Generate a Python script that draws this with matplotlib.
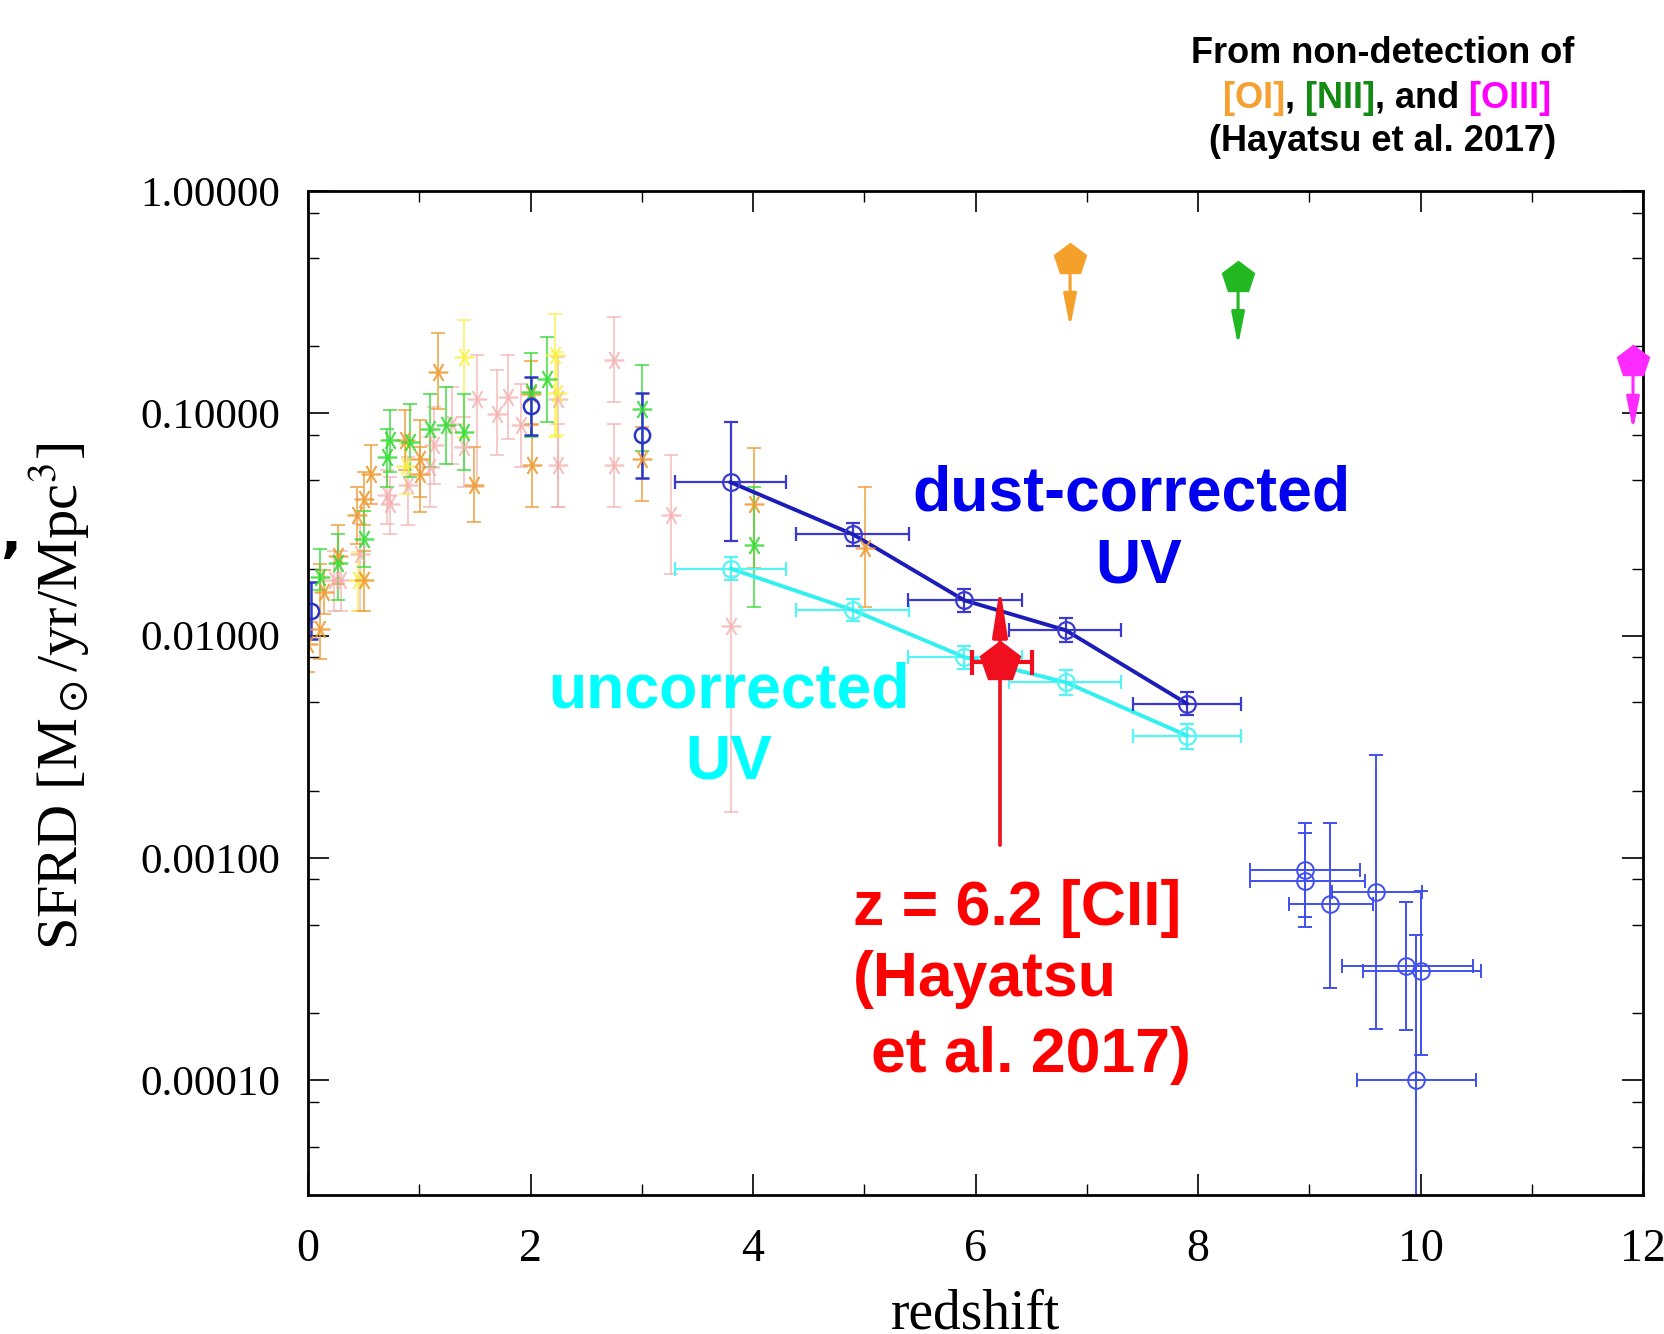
import numpy as np
import matplotlib
matplotlib.use("Agg")
import matplotlib.pyplot as plt
from matplotlib.ticker import LogLocator, FixedLocator, FormatStrFormatter, NullFormatter

plt.rcParams['mathtext.fontset'] = 'stix'

# ---- data (redshift, SFRD, upper, lower) ----
pink_z = [0.23, 0.30, 0.47, 0.71, 0.74, 0.90, 1.10, 1.13, 1.29, 1.40, 1.52, 1.70, 1.80, 1.91, 2.25, 2.25, 2.75, 2.75, 3.26, 3.80]
pink_y = [0.0177, 0.0177, 0.0233, 0.0427, 0.0392, 0.0474, 0.0573, 0.0718, 0.0899, 0.0705, 0.116, 0.0996, 0.118, 0.0883, 0.116, 0.0583, 0.173, 0.0583, 0.0347, 0.011]
pink_hi = [0.0241, 0.0241, 0.0318, 0.0553, 0.0516, 0.0635, 0.0782, 0.1067, 0.1315, 0.0962, 0.1825, 0.156, 0.1825, 0.136, 0.1794, 0.0899, 0.2716, 0.0899, 0.0647, 0.0185]
pink_lo = [0.0129, 0.0129, 0.0129, 0.0318, 0.0287, 0.0313, 0.0378, 0.0482, 0.0593, 0.0466, 0.0466, 0.0647, 0.0769, 0.0573, 0.0378, 0.0378, 0.1125, 0.0378, 0.0190, 0.0016]

yellow_z = [0.45, 0.88, 1.40, 2.22, 2.24]
yellow_y = [0.0177, 0.058, 0.179, 0.182, 0.123]
yellow_hi = [0.0237, 0.073, 0.262, 0.281, 0.189]
yellow_lo = [0.0129, 0.0435, 0.0782, 0.0782, 0.0796]

orange_z = [0.00, 0.11, 0.14, 0.27, 0.44, 0.50, 0.50, 0.57, 0.87, 1.01, 1.01, 1.17, 1.49, 2.00, 2.01, 3.00, 4.01, 5.01]
orange_y = [0.0092, 0.0107, 0.0157, 0.0229, 0.0347, 0.0177, 0.0413, 0.0535, 0.0755, 0.0625, 0.0535, 0.153, 0.0474, 0.122, 0.0583, 0.0625, 0.0389, 0.0247]
orange_hi = [0.0115, 0.0210, 0.0198, 0.0313, 0.0466, 0.0241, 0.0544, 0.0718, 0.103, 0.093, 0.0705, 0.229, 0.0705, 0.172, 0.0899, 0.0869, 0.0695, 0.0468]
orange_lo = [0.00683, 0.00784, 0.0125, 0.0171, 0.0259, 0.0129, 0.0313, 0.0392, 0.0553, 0.042, 0.0359, 0.105, 0.0324, 0.089, 0.0378, 0.0405, 0.0202, 0.0135]

green_z = [0.11, 0.27, 0.50, 0.71, 0.74, 0.92, 1.10, 1.24, 1.40, 2.00, 2.15, 3.00, 4.01]
green_y = [0.0183, 0.0211, 0.0272, 0.0635, 0.0755, 0.0743, 0.0853, 0.0883, 0.0824, 0.125, 0.143, 0.105, 0.0255]
green_hi = [0.0246, 0.0287, 0.0365, 0.0853, 0.103, 0.1106, 0.1227, 0.1315, 0.1227, 0.186, 0.221, 0.1645, 0.0468]
green_lo = [0.0160, 0.0144, 0.0203, 0.0466, 0.0544, 0.0516, 0.0573, 0.0593, 0.0553, 0.0782, 0.0914, 0.068, 0.0135]

blue_low_z = [0.03, 2.00, 3.00]
blue_low_y = [0.0129, 0.1076, 0.0796]
blue_low_hi = [0.0174, 0.145, 0.123]
blue_low_lo = [0.00966, 0.0796, 0.0513]

uv_z = [3.80, 4.90, 5.90, 6.81, 7.90]
uv_zlo = [3.30, 4.39, 5.39, 6.30, 7.42]
uv_zhi = [4.30, 5.40, 6.42, 7.31, 8.39]
dust_y = [0.0489, 0.0285, 0.0144, 0.01057, 0.00494]
dust_hi = [0.091, 0.0320, 0.0162, 0.0120, 0.0056]
dust_lo = [0.0265, 0.0254, 0.0128, 0.0094, 0.0044]
uncor_y = [0.020, 0.0130, 0.0080, 0.00616, 0.00355]
uncor_hi = [0.0226, 0.0146, 0.0090, 0.0070, 0.0040]
uncor_lo = [0.0177, 0.0116, 0.0071, 0.0054, 0.0031]

hiz_z = [8.96, 8.96, 9.19, 9.60, 9.87, 10.00, 9.96]
hiz_zlo = [8.47, 8.47, 8.82, 9.20, 9.29, 9.48, 9.43]
hiz_zhi = [9.46, 9.50, 9.57, 10.01, 10.47, 10.54, 10.50]
hiz_y = [8.8e-4, 7.85e-4, 6.2e-4, 7.0e-4, 3.25e-4, 3.1e-4, 1.0e-4]
hiz_hi = [1.44e-3, 1.29e-3, 1.44e-3, 2.9e-3, 6.3e-4, 7.1e-4, 4.5e-4]
hiz_lo = [5.4e-4, 4.9e-4, 2.6e-4, 1.7e-4, 1.68e-4, 1.3e-4, 1e-6]

cii_z, cii_zlo, cii_zhi = 6.22, 5.97, 6.51
cii_y, cii_arrow_lo, cii_arrow_hi = 0.0076, 0.00114, 0.0165

lim_z = [6.85, 8.36, 11.91]
lim_y = [0.489, 0.405, 0.17]
lim_tip = [0.244, 0.202, 0.084]
lim_col = ['#f5a02a', '#22b822', '#ff2aff']


def eb(ax, z, y, hi, lo, color, marker, ms, alpha=1.0, lw=1.2, xlo=None, xhi=None, **kw):
    z = np.array(z); y = np.array(y)
    yerr = [y - np.array(lo), np.array(hi) - y]
    xerr = None
    if xlo is not None:
        xerr = [z - np.array(xlo), np.array(xhi) - z]
    ax.errorbar(z, y, yerr=yerr, xerr=xerr, fmt='', marker=marker, color=color, ms=ms, mfc='none',
                mec=color, mew=lw, elinewidth=lw, capsize=5, capthick=lw, alpha=alpha, ls='none', **kw)


fig = plt.figure(figsize=(16.65, 13.34), dpi=100)
ax = fig.add_axes([0.185, 0.1042, 0.8018, 0.7526])
ax.set_yscale('log')
ax.set_xlim(0, 12)
ax.set_ylim(3.04e-5, 1.0)

star = (6, 2, 90)
eb(ax, pink_z, pink_y, pink_hi, pink_lo, '#f4a8a8', star, 14, alpha=0.7)
eb(ax, yellow_z, yellow_y, yellow_hi, yellow_lo, '#f8f040', star, 14, alpha=0.8)
eb(ax, orange_z, orange_y, orange_hi, orange_lo, '#ee9a30', star, 14, alpha=0.85)
eb(ax, green_z, green_y, green_hi, green_lo, '#33dd33', star, 14, alpha=0.85)
eb(ax, blue_low_z, blue_low_y, blue_low_hi, blue_low_lo, '#2a36c8', 'o', 11, lw=1.8)

eb(ax, hiz_z, hiz_y, hiz_hi, hiz_lo, '#4050ee', 'o', 12, lw=1.4, xlo=hiz_zlo, xhi=hiz_zhi)

eb(ax, uv_z, uncor_y, uncor_hi, uncor_lo, '#55f5f5', 'o', 12, lw=1.6, xlo=uv_zlo, xhi=uv_zhi)
ax.plot(uv_z, uncor_y, color='#30f0f0', lw=2.8)
eb(ax, uv_z, dust_y, dust_hi, dust_lo, '#3a3ad0', 'o', 12, lw=1.6, xlo=uv_zlo, xhi=uv_zhi)
ax.plot(uv_z, dust_y, color='#1c1cb8', lw=2.8)

# [CII] point
red = '#f00f1e'
ax.annotate('', xy=(cii_z, cii_arrow_hi), xytext=(cii_z, cii_arrow_lo),
            arrowprops=dict(arrowstyle='-|>,head_length=0.9,head_width=0.14', color=red, lw=2.6,
                            mutation_scale=32, shrinkA=0, shrinkB=0))
ax.errorbar([cii_z], [cii_y], xerr=[[cii_z - cii_zlo], [cii_zhi - cii_z]], fmt='p', color=red,
            ms=30, elinewidth=3, capsize=9, capthick=3, zorder=5)

# upper limits
for z, y, tip, c in zip(lim_z, lim_y, lim_tip, lim_col):
    ax.annotate('', xy=(z, tip), xytext=(z, y), annotation_clip=False,
                arrowprops=dict(arrowstyle='-|>,head_length=0.75,head_width=0.15', color=c, lw=2.2,
                                mutation_scale=26, shrinkA=0, shrinkB=0))
    ax.plot([z], [y], marker='p', color=c, ms=24, clip_on=False, zorder=6)

# axes styling
for s in ax.spines.values():
    s.set_linewidth(2)
ax.xaxis.set_major_locator(FixedLocator([0, 2, 4, 6, 8, 10, 12]))
ax.xaxis.set_minor_locator(FixedLocator([1, 3, 5, 7, 9, 11]))
ax.yaxis.set_major_locator(LogLocator(base=10, numticks=10))
ax.yaxis.set_minor_locator(LogLocator(base=10, subs=(2.0, 5.0, 8.0), numticks=20))
ax.yaxis.set_major_formatter(FormatStrFormatter('%.5f'))
ax.yaxis.set_minor_formatter(NullFormatter())
ax.tick_params(which='both', direction='in', top=True, right=True)
ax.tick_params(which='major', length=15, width=1.2)
ax.tick_params(which='minor', length=8, width=1.0)
ax.tick_params(axis='y', which='major', pad=20, labelsize=31)
ax.tick_params(axis='x', which='major', pad=24, labelsize=33)
for lab in ax.get_xticklabels() + ax.get_yticklabels():
    lab.set_family('Liberation Serif')

fig.text(0.036, 0.478, r'SFRD [M$_\odot$/yr/Mpc$^3$]', rotation=90, ha='center', va='center',
         family='Liberation Serif', fontsize=42)
fig.text(0.5856, 0.034, 'redshift', ha='center', va='top', family='Liberation Serif', fontsize=40)
fig.text(0.0066, 0.598, ',', ha='center', va='center', fontsize=40, weight='bold')

# labels inside plot
bold = dict(family='Liberation Sans', weight='bold', fontsize=45)
ax.text(7.40, 0.0433, 'dust-corrected', color='#0000ee', ha='center', va='center', **bold)
ax.text(7.47, 0.0205, 'UV', color='#0000ee', ha='center', va='center', **bold)
ax.text(3.78, 0.00564, 'uncorrected', color='#00ffff', ha='center', va='center', **bold)
ax.text(3.78, 0.0027, 'UV', color='#00ffff', ha='center', va='center', **bold)
ax.text(4.90, 5.89e-4, 'z = 6.2 [CII]', color='#ff0000', ha='left', va='center', **bold)
ax.text(4.90, 2.82e-4, '(Hayatsu', color='#ff0000', ha='left', va='center', **bold)
ax.text(5.06, 1.29e-4, 'et al. 2017)', color='#ff0000', ha='left', va='center', **bold)

# top-right note
note = dict(family='Liberation Sans', weight='bold', fontsize=26, va='center')
fig.text(0.8306, 0.960, 'From non-detection of', ha='center', **note)
fig.text(0.8306, 0.894, '(Hayatsu et al. 2017)', ha='center', **note)
parts = [('[OI]', '#f5a030'), (', ', 'black'), ('[NII]', '#138a13'), (', and ', 'black'), ('[OIII]', '#ff00ff')]
renderer = fig.canvas.get_renderer()
texts = [fig.text(0, 0.9265, s, color=c, ha='left', **note) for s, c in parts]
widths = [t.get_window_extent(renderer).width / fig.bbox.width for t in texts]
x = 0.833 - sum(widths) / 2
for t, w in zip(texts, widths):
    t.set_x(x)
    x += w

fig.savefig('out.png', dpi=100)
